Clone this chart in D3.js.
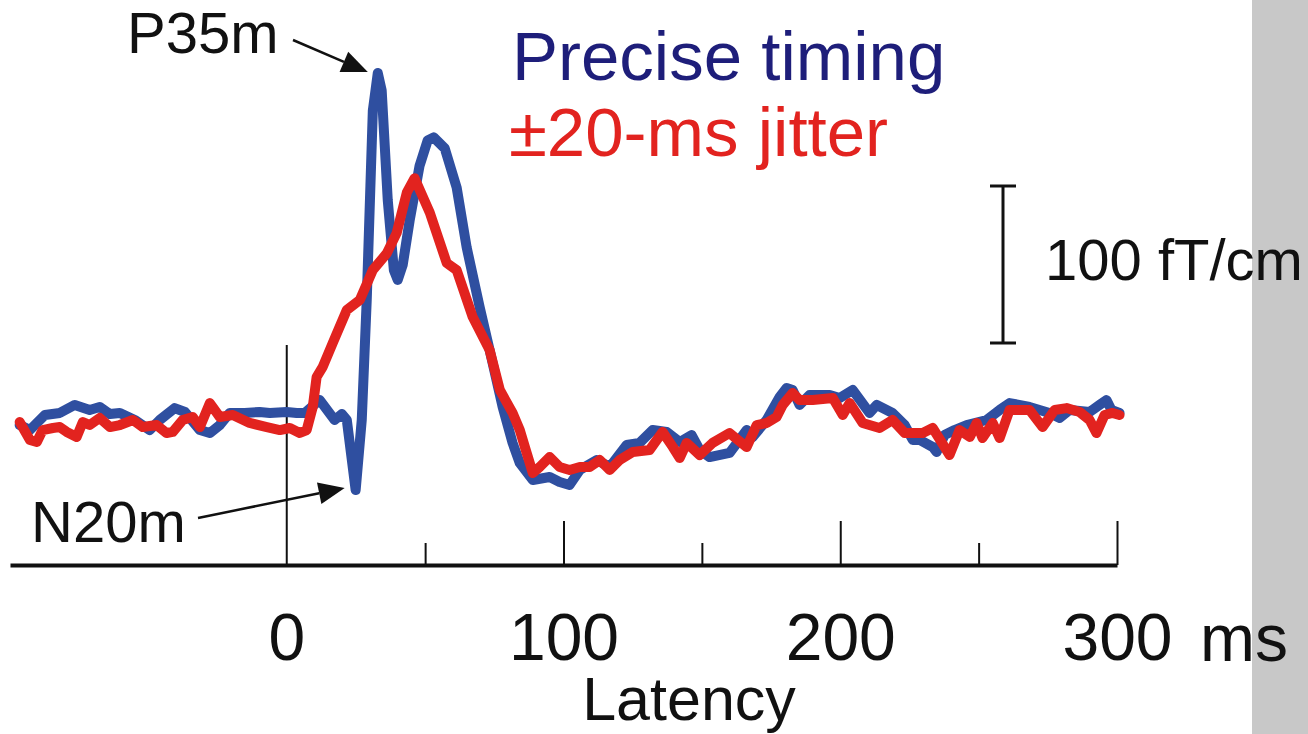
<!DOCTYPE html>
<html>
<head>
<meta charset="utf-8">
<script src="https://cdn.jsdelivr.net/npm/d3@7"></script>
<style>
  body { margin: 0; background: #fff; }
  svg text { font-family: "Liberation Sans", Arial, sans-serif; }
</style>
</head>
<body>
<div id="chart"></div>
<script>
// latency (ms) and field strength (fT/cm, relative to baseline)
var blueTimes = [-96.5,-92.8,-87.4,-82,-76.6,-71.2,-67.6,-63.9,-60.3,-54.9,-49.5,-45.9,-40.5,-36.8,-31.4,-27.8,-24.2,-20.6,-15.2,-9.8,-6.1,0,3.6,6.5,11.9,17.3,19.9,21.7,24.9,27.1,28.9,31.1,32.9,34.3,36.5,38.7,40.1,41.9,44.4,48,50.9,53.1,57.1,61.4,65,69.7,74.4,78,81.6,84.2,88.9,95,98.6,102.2,105.9,112,116.7,122.8,127.5,132.2,137.3,142,146.3,149.2,152.8,160,166.2,168.4,173.4,178.1,180.6,182.8,185.3,188.9,196.2,199.8,204.5,210.6,213.2,218.9,223.3,226.2,228.7,233.4,234.8,237.7,241.3,245.7,252.9,257.6,261.2,268.4,275.6,279.3,282.9,290.1,293.7,296.2,298,300.9];
var blueValues = [-3.2,-6.4,3.2,4.5,9.6,6.4,8.3,3.8,4.5,0,-6.4,0,7.6,5.1,-6.4,-8.3,-3.2,4.5,4.5,5.1,4.5,5.1,4.5,4.5,12.7,0,3.8,0,-44.6,0,76.4,197,221,210,140,95.5,89.2,98.7,127,162,178,180,173,148,110,72,36.3,8.3,-14.6,-27.4,-38.2,-36.3,-39.5,-41.4,-31.8,-25.5,-29.9,-15.9,-14.6,-6.4,-7.6,-14,-9.6,-19.1,-23.6,-21,-6.4,-10.8,0,14.6,20.4,19.1,9.6,15.9,15.9,14,19.1,4.5,9.6,4.5,-3.2,-12.7,-12.7,-17.2,-20.4,-9.6,-6.4,-3.2,0,6.4,10.8,8.3,4.5,1.3,6.4,5.1,9.6,12.7,6.4,4.5];

var redTimes = [-96.5,-92.8,-90.3,-88.2,-84.5,-82,-79.5,-75.9,-73.7,-71.2,-67.6,-63.9,-60.3,-55.6,-52,-47,-43.4,-41.2,-37.6,-34,-31.4,-27.8,-24.2,-19.5,-13.4,-7.2,-2.5,1.1,4.7,7.2,9.4,10.8,13,16.6,21.7,26.4,31.1,36.1,39.7,43.4,46.2,51.7,57.8,61.4,67.2,73.3,77,81.6,84.2,86.7,88.9,91.4,95,98.6,102.2,105.9,109.5,113.1,116.7,120.3,125,131.1,135.8,139.5,142,144.5,149.2,153.9,160,166.2,169.8,173.4,177,179.2,182.8,185.3,190,197.3,200.9,203.4,208.1,214.2,218.9,223.3,229.8,233.4,239.5,243.1,246.8,249.3,251.4,255.1,257.6,261.2,268.4,273.1,277.5,281.8,286.5,290.1,292.6,295.5,298.4,300.9];
var redValues = [-1.3,-12.7,-14,-6.4,-5.1,-4.5,-7.6,-10.8,-1.3,-3.2,1.3,-4.5,-3.2,0,-4.5,-3.2,-8.3,-7.6,0,1.9,-4.5,10.8,1.9,3.2,-1.9,-4.5,-6.4,-5.1,-8.3,-6.4,8.3,27.4,33.8,49,70.1,76.4,95.5,106,119,145,154,132,100,95.5,65.6,44.6,19.1,4.5,-6.4,-21,-33.8,-29.9,-23.6,-29.9,-31.8,-29.9,-29.9,-25.5,-31.8,-25.5,-20.4,-19.1,-7.6,-17.2,-24.2,-14.6,-22.3,-14.6,-8.3,-17.2,-3.2,-1.9,1.9,9.6,17.2,12.7,12.7,14,3.2,10.8,-1.9,-5.1,0,-8.3,-8.3,-5.1,-22.3,-6.4,-10.8,-1.9,-11.5,-1.9,-11.5,6.4,6.4,-4.5,6.4,7.6,5.1,0,-8.3,3.2,4.5,3.2];

var majorTicks = [0, 100, 200, 300];
var midTicks = [50, 150, 250];
var seriesNames = ["Precise timing", "\u00b120-ms jitter"];

var W = 1308, H = 734;
var svg = d3.select("#chart").append("svg")
    .attr("width", W)
    .attr("height", H);

var x = d3.scaleLinear().domain([-100, 300]).range([10, 1117]);
var y = d3.scaleLinear().domain([0, 100]).range([420, 263]);
var axisY = 565;

// grey strip on the right
svg.append("rect")
    .attr("x", 1252).attr("y", 0)
    .attr("width", W - 1252).attr("height", H)
    .attr("fill", "#c8c8c8");

// stimulus onset line
svg.append("line")
    .attr("x1", x(0)).attr("x2", x(0))
    .attr("y1", 345).attr("y2", axisY)
    .attr("stroke", "#111").attr("stroke-width", 2);

// axis with tall and short ticks
var axis = svg.append("g")
    .attr("transform", "translate(0," + axisY + ")")
    .call(d3.axisBottom(x).tickValues(majorTicks.slice(1))
        .tickSize(-44).tickSizeOuter(0).tickPadding(48)
        .tickFormat(d3.format("d")));
axis.select(".domain").attr("stroke", "#111").attr("stroke-width", 4);
axis.selectAll(".tick line").attr("stroke", "#111").attr("stroke-width", 2);

svg.append("g")
    .attr("transform", "translate(0," + axisY + ")")
    .call(d3.axisBottom(x).tickValues(midTicks).tickSize(-22).tickFormat(""))
    .call(function(g) {
        g.select(".domain").remove();
        g.selectAll(".tick line").attr("stroke", "#111").attr("stroke-width", 2);
    });

// zero label (tick itself is the onset line)
axis.append("text")
    .attr("x", x(0)).attr("y", 48).attr("dy", "0.71em")
    .attr("text-anchor", "middle").text("0");

axis.selectAll("text")
    .attr("font-size", 66)
    .attr("fill", "#111")
    .attr("font-family", "Liberation Sans, Arial, sans-serif");

svg.append("text")
    .attr("x", 1200).attr("y", 661)
    .attr("font-size", 66).attr("fill", "#111")
    .text("ms");

svg.append("text")
    .attr("x", 689).attr("y", 720)
    .attr("text-anchor", "middle")
    .attr("font-size", 61).attr("fill", "#111")
    .text("Latency");

// traces
var line = d3.line()
    .x(function(d) { return x(d[0]); })
    .y(function(d) { return y(d[1]); });

var blue = d3.zip(blueTimes, blueValues);
var red = d3.zip(redTimes, redValues);

svg.append("path").datum(blue)
    .attr("d", line)
    .attr("fill", "none").attr("stroke", "#2f4fa0")
    .attr("stroke-width", 10)
    .attr("stroke-linejoin", "round").attr("stroke-linecap", "round");

svg.append("path").datum(red)
    .attr("d", line)
    .attr("fill", "none").attr("stroke", "#e2231f")
    .attr("stroke-width", 10)
    .attr("stroke-linejoin", "round").attr("stroke-linecap", "round");

// scale bar (100 fT/cm)
var barBottom = 343;
var barTop = barBottom - (y(0) - y(100));
var barX = 1003;
svg.append("line")
    .attr("x1", barX).attr("x2", barX).attr("y1", barTop).attr("y2", barBottom)
    .attr("stroke", "#111").attr("stroke-width", 3);
[barTop, barBottom].forEach(function(yy) {
    svg.append("line")
        .attr("x1", barX - 13).attr("x2", barX + 13).attr("y1", yy).attr("y2", yy)
        .attr("stroke", "#111").attr("stroke-width", 3);
});
svg.append("text")
    .attr("x", 1045).attr("y", 280)
    .attr("font-size", 58).attr("fill", "#111")
    .text("100 fT/cm");

// legend
svg.append("text")
    .attr("x", 512).attr("y", 80)
    .attr("font-size", 69).attr("fill", "#1e1e7a")
    .text(seriesNames[0]);
svg.append("text")
    .attr("x", 509).attr("y", 156)
    .attr("font-size", 69).attr("fill", "#e2231f")
    .text(seriesNames[1]);

// peak labels with arrows
function arrow(x1, y1, x2, y2) {
    var ang = Math.atan2(y2 - y1, x2 - x1);
    var len = 26, half = 11;
    var bx = x2 - len * Math.cos(ang), by = y2 - len * Math.sin(ang);
    svg.append("line")
        .attr("x1", x1).attr("y1", y1).attr("x2", bx).attr("y2", by)
        .attr("stroke", "#111").attr("stroke-width", 2.5);
    svg.append("polygon")
        .attr("points", [
            [x2, y2],
            [bx + half * Math.sin(ang), by - half * Math.cos(ang)],
            [bx - half * Math.sin(ang), by + half * Math.cos(ang)]
        ].join(" "))
        .attr("fill", "#111");
}

var p35 = [32.9, 221];
var n20 = [24.9, -44.6];

svg.append("text")
    .attr("x", 127).attr("y", 53)
    .attr("font-size", 58).attr("fill", "#111")
    .text("P35m");
arrow(293, 40, x(p35[0]) - 10, y(p35[1]) - 1);

svg.append("text")
    .attr("x", 31).attr("y", 542)
    .attr("font-size", 58).attr("fill", "#111")
    .text("N20m");
arrow(198, 518, x(n20[0]) - 11, y(n20[1]) - 2);
</script>
</body>
</html>
